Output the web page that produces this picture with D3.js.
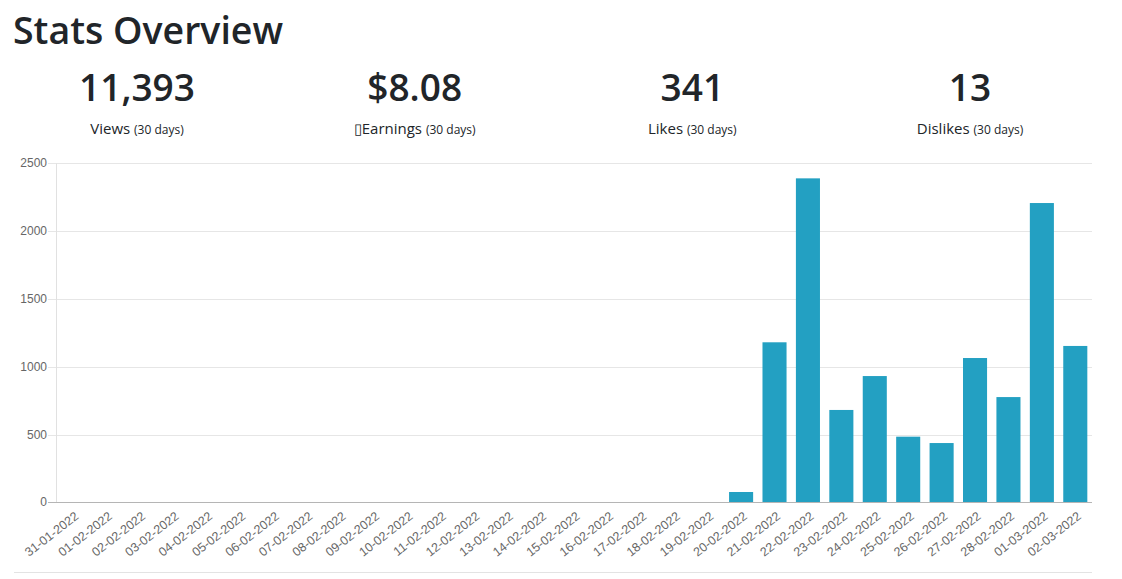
<!DOCTYPE html>
<html>
<head>
<meta charset="utf-8">
<script src="https://cdn.jsdelivr.net/npm/d3@7"></script>
<style>
  html, body { margin: 0; padding: 0; background: #fff; }
  svg { display: block; }
</style>
</head>
<body>
<svg id="chart" width="1122" height="579"></svg>
<script>
const title = "Stats Overview";
const statValues = ["11,393", "$8.08", "341", "13"];
const statLabels = ["Views", "\u25AFEarnings", "Likes", "Dislikes"];
const statPeriod = "(30 days)";
const dates = ["31-01-2022","01-02-2022","02-02-2022","03-02-2022","04-02-2022","05-02-2022","06-02-2022","07-02-2022","08-02-2022","09-02-2022","10-02-2022","11-02-2022","12-02-2022","13-02-2022","14-02-2022","15-02-2022","16-02-2022","17-02-2022","18-02-2022","19-02-2022","20-02-2022","21-02-2022","22-02-2022","23-02-2022","24-02-2022","25-02-2022","26-02-2022","27-02-2022","28-02-2022","01-03-2022","02-03-2022"];
const views = [0,0,0,0,0,0,0,0,0,0,0,0,0,0,0,0,0,0,0,0,76,1180,2389,681,931,484,437,1064,776,2207,1153];
const yTicks = [0,500,1000,1500,2000,2500];

(function () {
const svg = d3.select("#chart");
const textColor = "#212529";
const uiFont = "'Open Sans', 'Noto Sans', sans-serif";

// Title
svg.append("text").attr("x", 13).attr("y", 44)
  .attr("font-family", uiFont).attr("font-size", 37.5).attr("font-weight", 600)
  .attr("fill", textColor).text(title);

// Stats
const colX = d3.scalePoint().domain(d3.range(statValues.length)).range([137, 970]);
const stats = svg.append("g");
statValues.forEach((v, i) => {
  stats.append("text").attr("x", colX(i)).attr("y", 101).attr("text-anchor", "middle")
    .attr("font-family", uiFont).attr("font-size", 37).attr("font-weight", 600)
    .attr("fill", textColor).text(v);
  const t = stats.append("text").attr("x", colX(i)).attr("y", 134).attr("text-anchor", "middle")
    .attr("font-family", uiFont).attr("fill", textColor);
  t.append("tspan").attr("font-size", 15).text(statLabels[i] + " ");
  t.append("tspan").attr("font-size", 12).text(statPeriod);
});

// Chart
const pl = 56, pr = 1092, pt = 163.3, pb = 502.3;
const x = d3.scaleBand().domain(dates).range([pl, pr]).paddingInner(0.28).paddingOuter(0.14);
const xb = d3.scaleBand().domain(dates).range([pl, pr]);
const y = d3.scaleLinear().domain([0, 2500]).range([pb, pt]);

const axisFont = "'Liberation Sans', Arial, sans-serif";
const grid = svg.append("g");
grid.selectAll("line").data(yTicks.filter(d => d > 0)).join("line")
  .attr("x1", pl - 8).attr("x2", pr)
  .attr("y1", d => Math.round(y(d)) + 0.5).attr("y2", d => Math.round(y(d)) + 0.5)
  .attr("stroke", "#e6e6e6").attr("stroke-width", 1);

svg.append("line").attr("x1", pl + 0.5).attr("x2", pl + 0.5)
  .attr("y1", pt).attr("y2", pb).attr("stroke", "#e1e1e1");

svg.append("g").selectAll("rect").data(dates).join("rect")
  .attr("x", d => x(d)).attr("width", x.bandwidth())
  .attr("y", (d, i) => y(views[i])).attr("height", (d, i) => pb - y(views[i]))
  .attr("fill", "#23a0c2");

svg.append("line").attr("x1", pl - 8).attr("x2", pr)
  .attr("y1", Math.round(pb) + 0.5).attr("y2", Math.round(pb) + 0.5)
  .attr("stroke", "#b5b5b5");

svg.append("g").selectAll("text").data(yTicks).join("text")
  .attr("x", 47).attr("y", d => y(d) + 4).attr("text-anchor", "end")
  .attr("font-family", axisFont).attr("font-size", 12).attr("fill", "#666").text(d => d);

svg.append("g").selectAll("text").data(dates).join("text")
  .attr("transform", d => `translate(${xb(d) + xb.bandwidth() / 2 + 1},${pb + 8}) rotate(-38)`)
  .attr("text-anchor", "end").attr("dy", "0.75em")
  .attr("font-family", axisFont).attr("font-size", 12.5).attr("fill", "#666").text(d => d);

svg.append("line").attr("x1", 14).attr("x2", pr).attr("y1", 572.5).attr("y2", 572.5)
  .attr("stroke", "#e3e3e3");
})();
</script>
</body>
</html>
